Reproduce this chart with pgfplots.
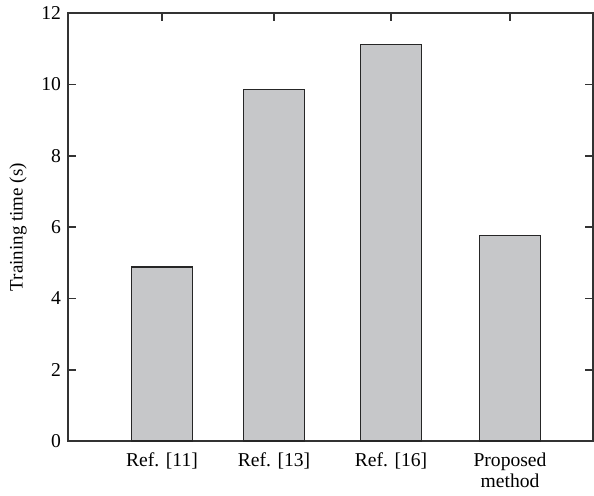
\documentclass[border=0pt]{standalone}
\usepackage{fontspec}
\setmainfont{Liberation Serif}
\usepackage{pgfplots}
\pgfplotsset{compat=1.18}
\definecolor{barfill}{HTML}{C6C7C9}
\definecolor{axcol}{HTML}{333333}
\begin{document}
\begin{tikzpicture}
\begin{axis}[
  scale only axis,
  width=262.5pt, height=214pt,
  xmin=68, xmax=593,
  ymin=0, ymax=12,
  ytick={0,2,4,6,8,10,12},
  xtick={162,274,391,510},
  xticklabels={{Ref. [11]},{Ref. [13]},{Ref. [16]},{Proposed\\method}},
  xticklabel style={align=center, font=\fontsize{9.8}{10.5}\selectfont, inner sep=1pt, yshift=-4.5pt},
  yticklabel style={font=\fontsize{9.8}{10.5}\selectfont},
  /pgf/number format/assume math mode=true,
  tick align=inside,
  major tick length=4pt,
  tick style={axcol, line width=0.8pt},
  axis line style={axcol, line width=0.9pt},
  ylabel={Training time (s)},
  ylabel style={at={(axis description cs:-0.0952,0.5)}, anchor=center, font=\fontsize{9.5}{10.5}\selectfont},
  clip=false,
]
\addplot[ybar, bar width=30.5pt, fill=barfill, draw=black!85, line width=0.8pt]
  coordinates {(162,4.88) (274,9.86) (391,11.12) (510,5.77)};
\path (axis cs:0,-1.514) rectangle (axis cs:594,12.336);
\end{axis}
\end{tikzpicture}
\end{document}
